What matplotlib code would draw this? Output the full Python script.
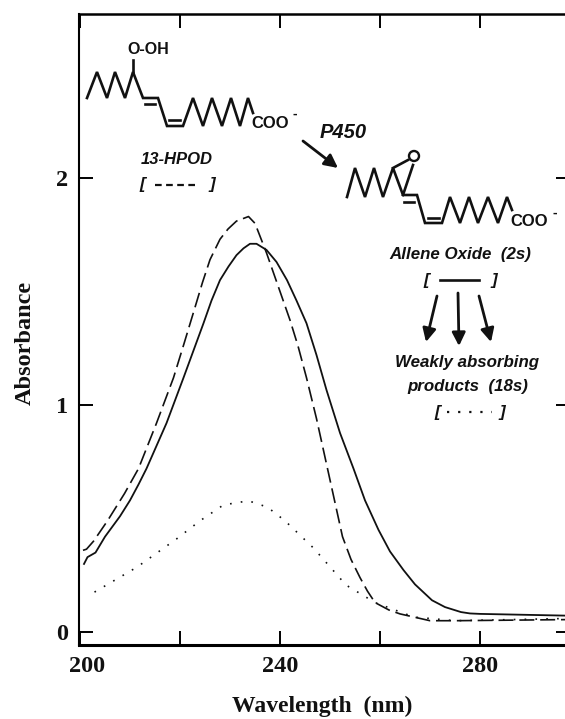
import matplotlib
matplotlib.use("Agg")
import matplotlib.pyplot as plt
from matplotlib.patches import Circle
from matplotlib.transforms import ScaledTranslation

# curves
wl_solid = [200.8,201.5,203.1,205,208,210,211.7,213.3,215.3,217.3,219,220.7,222.7,224.7,226.3,228,229.7,231.3,232.7,234,235.3,237.3,239.3,241.4,243.3,245.3,247.3,249.3,252,254.7,257,259.7,262,264.7,267,270.4,273,276.2,278,280,298]
abs_solid = [.30,.33,.35,.42,.51,.58,.65,.72,.82,.92,1.02,1.12,1.24,1.36,1.46,1.55,1.61,1.66,1.69,1.71,1.71,1.683,1.63,1.55,1.46,1.36,1.22,1.066,.877,.72,.58,.45,.355,.273,.21,.14,.11,.088,.082,.08,.072]
wl_dash = [200.6,201.3,202.7,205.5,208.9,211.7,215.3,218.7,220.8,223,224.5,226,228,229.6,231.3,233.7,235,237.3,240,242,243.6,245.3,247.3,249.3,250.8,252.5,254.2,256,257.5,259,261.8,264,266.8,270,275,298]
abs_dash = [.36,.365,.40,.49,.61,.72,.92,1.12,1.27,1.43,1.54,1.64,1.73,1.775,1.81,1.83,1.80,1.67,1.50,1.374,1.26,1.12,.94,.74,.59,.42,.32,.24,.18,.13,.097,.08,.066,.05,.05,.055]
wl_dot = [202.9,211.4,219.3,224,228.7,233.7,237.5,241,246.7,253.2,259,266.8,275,298]
abs_dot = [.176,.286,.41,.49,.56,.578,.55,.49,.37,.207,.13,.066,.05,.06]

x_ticks = [200,220,240,260,280]
x_labels = ["200","","240","","280"]
y_ticks = [0,1,2]

# drawing of the molecules, in pixels of the image
hpod_chain = [(87,98),(97,72),(107,98),(115,72),(125,98),(133,72),(143,98),(158,98),(167,126),(183,126),(193,98),(203,126),(212,98),(222,126),(231,98),(240,126),(248,98),(253,113)]
oxide_chain = [(347,197),(355,168),(365,197),(374,168),(383,197),(393,168),(403,195),(417,195),(425,223),(442,223),(450,197),(460,223),(469,197),(478,223),(488,197),(498,223),(507,197),(512,210)]
short_lines = [
    [(145,104),(155,104)], [(169,120),(180,120)], [(133,72),(133,60)],
    [(404,202),(414,202)], [(428,218),(439,218)], [(393,168),(408,160)], [(403,195),(413,165)],
]
arrows = [((303,141),(338,168)),((437,296),(426,342)),((458,293),(459,346)),((479,296),(491,342))]
sans_notes = [
    (148,49,"O-OH",11.5,"normal"),(270,124,"COO",12,"normal"),(295,114,"-",10,"normal"),
    (529,221,"COO",12,"normal"),(555,213,"-",10,"normal"),
    (343,133,"P450",14.5,"italic"),(177,159,"13-HPOD",12,"italic"),
    (460,255,"Allene Oxide  (2s)",12.2,"italic"),
    (467,362,"Weakly absorbing",12.2,"italic"),(468,387,"products  (18s)",12.2,"italic"),
]
brackets = [(142,185,"["),(212,185,"]"),(426,280,"["),(494,280,"]"),(437,412,"["),(502,412,"]")]
key_lines = [
    ([155,198],185,(3,2)),
    ([440,479],280,None),
    ([447,492],412,(1,4)),
]

W, H = 565, 719
fig = plt.figure(figsize=(W/100, H/100), dpi=100)
ax = fig.add_axes([79/W, 1-645/H, (570-79)/W, (645-14)/H])
ax.plot(wl_solid, abs_solid, "-", color="#111111", lw=1.3)
ax.plot(wl_dash, abs_dash, color="#111111", lw=1.2, dashes=(9,3.5))
ax.plot(wl_dot, abs_dot, color="#111111", lw=1.2, dashes=(1,5.5))
ax.set_xlim(199.8, 298)
ax.set_ylim(-0.057, 2.722)
ax.set_xticks(x_ticks, x_labels)
ax.set_yticks(y_ticks)
ax.tick_params(axis="both", which="major", direction="in", length=10, width=1.4,
               top=True, right=True, labelsize=17.5, pad=8)
for lab in ax.get_xticklabels() + ax.get_yticklabels():
    lab.set_family("Liberation Serif")
    lab.set_weight("bold")
    lab.set_color("#111111")
lab200 = ax.get_xticklabels()[0]
lab200.set_transform(lab200.get_transform() + ScaledTranslation(7/100, 0, fig.dpi_scale_trans))
ax.spines["left"].set_linewidth(1.5)
ax.spines["bottom"].set_linewidth(2.2)
ax.spines["top"].set_linewidth(1.8)
ax.spines["right"].set_visible(False)

# overlay in pixel coordinates for the scheme
ov = fig.add_axes([0,0,1,1])
ov.set_xlim(0,W)
ov.set_ylim(H,0)
ov.axis("off")
for chain in [hpod_chain, oxide_chain]:
    ov.plot(*zip(*chain), color="#111111", lw=1.9, solid_joinstyle="miter")
for seg in short_lines:
    ov.plot(*zip(*seg), color="#111111", lw=1.9)
ov.add_patch(Circle((414,156), 5, fill=False, ec="#111111", lw=1.7))
for a, b in arrows:
    ov.annotate("", xy=b, xytext=a, arrowprops=dict(arrowstyle="-|>,head_length=0.8,head_width=0.4",
                                                    color="#111111", lw=2, shrinkA=0, shrinkB=0))
for x, y, s, fs, st in sans_notes:
    ov.text(x, y, s, family="Liberation Sans", weight="bold", style=st, fontsize=fs,
            ha="center", va="center", color="#111111")
for x, y, s in brackets:
    ov.text(x, y, s, family="Liberation Sans", weight="bold", style="italic", fontsize=12.2,
            ha="center", va="center", color="#111111")
for xs, y, d in key_lines:
    if d:
        ov.plot(xs, [y,y], color="#111111", lw=1.6, dashes=d)
    else:
        ov.plot(xs, [y,y], color="#111111", lw=1.9)

fig.text(25/W, 1-343/H, "Absorbance", family="Liberation Serif", weight="bold", fontsize=17.5,
         rotation=90, ha="center", va="center", color="#111111")
fig.text(322/W, 1-706/H, "Wavelength  (nm)", family="Liberation Serif", weight="bold", fontsize=17,
         ha="center", va="center", color="#111111")
fig.savefig("out.png", dpi=100)
